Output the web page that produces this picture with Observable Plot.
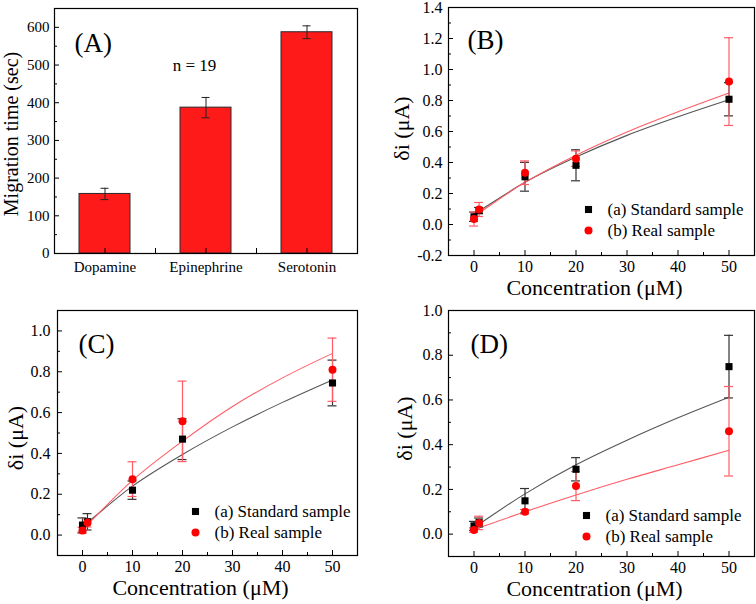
<!DOCTYPE html>
<html><head><meta charset="utf-8">
<script src="https://cdn.jsdelivr.net/npm/d3@7"></script>
<script src="https://cdn.jsdelivr.net/npm/@observablehq/plot@0.6"></script>
<style>
body{margin:0;background:#fff;}
#wrap{position:relative;width:756px;height:604px;background:#fff;overflow:hidden;}
#wrap > div{position:absolute;}
#wrap svg text{font-family:'Liberation Serif','Times New Roman',serif;}
</style></head><body>
<div id="wrap">
  <div id="pa" style="left:0;top:0"></div>
  <div id="pb" style="left:378px;top:0"></div>
  <div id="pc" style="left:0;top:300px"></div>
  <div id="pd" style="left:378px;top:300px"></div>
</div>
<script>
// ---------- Data ----------
const categories = ["Dopamine", "Epinephrine", "Serotonin"];
const migrationTime = [158, 387, 587];
const migrationErr = [15, 27, 17];
const nLabel = "n = 19";
const panelLabels = ["(A)", "(B)", "(C)", "(D)"];
const legendLabels = ["(a) Standard sample", "(b) Real sample"];
const xLabel = "Concentration (\u03bcM)";
const yLabelA = "Migration time (sec)";
const yLabel = "\u03b4i (\u03bcA)";

const concentration = [0, 1, 10, 20, 50];
const fitConcentration = [0, 1, 10, 20, 30, 40, 50];

// Panel B
const bStdY = [0.05, 0.09, 0.308, 0.382, 0.808];
const bStdErr = [0.03, 0.02, 0.093, 0.1, 0.107];
const bRealY = [0.035, 0.097, 0.334, 0.425, 0.922];
const bRealErr = [0.045, 0.045, 0.076, 0.05, 0.283];
const bFitStd = [0.07, 0.088, 0.272, 0.435, 0.575, 0.695, 0.805];
const bFitReal = [0.055, 0.075, 0.272, 0.447, 0.597, 0.727, 0.848];

// Panel C
const cStdY = [0.049, 0.065, 0.22, 0.47, 0.745];
const cStdErr = [0.035, 0.04, 0.045, 0.1, 0.112];
const cRealY = [0.023, 0.06, 0.274, 0.557, 0.81];
const cRealErr = [0.015, 0.02, 0.085, 0.197, 0.155];
const cFitStd = [0.045, 0.062, 0.24, 0.395, 0.53, 0.65, 0.76];
const cFitReal = [0.03, 0.052, 0.268, 0.46, 0.63, 0.77, 0.89];

// Panel D
const dStdY = [0.037, 0.052, 0.149, 0.29, 0.749];
const dStdErr = [0.02, 0.02, 0.055, 0.052, 0.14];
const dRealY = [0.018, 0.05, 0.10, 0.215, 0.46];
const dRealErr = [0.01, 0.03, 0.01, 0.065, 0.2];
const dFitStd = [0.03, 0.045, 0.18, 0.31, 0.42, 0.52, 0.612];
const dFitReal = [0.02, 0.028, 0.10, 0.175, 0.245, 0.31, 0.375];

// Ticks
const aYMajor = [0, 100, 200, 300, 400, 500, 600];
const aYMinor = [50, 150, 250, 350, 450, 550];
const xMajor = [0, 10, 20, 30, 40, 50];
const xMinor = [5, 15, 25, 35, 45];
const bYMajor = [-0.2, 0, 0.2, 0.4, 0.6, 0.8, 1.0, 1.2, 1.4];
const bYMinor = [-0.1, 0.1, 0.3, 0.5, 0.7, 0.9, 1.1, 1.3];
const cdYMajor = [0, 0.2, 0.4, 0.6, 0.8, 1.0];
const cdYMinor = [0.1, 0.3, 0.5, 0.7, 0.9];

// ---------- Styles ----------
const FONT = "'Liberation Serif', 'Times New Roman', serif";
const baseStyle = {fontFamily: FONT, fontSize: "16px", color: "black", background: "transparent", overflow: "visible"};
const RED = "#ff0000", RED_BAR = "#ff5c66", RED_FIT = "#ff5c66";
const BLK_BAR = "#333", BLK_FIT = "#555";
const T = {fontFamily: FONT, fill: "black"};

// ---------- Panel A ----------
const barRows = categories.map((c, i) => ({c, pos: i + 1, v: migrationTime[i], e: migrationErr[i]}));
const plotA = Plot.plot({
  width: 378, height: 300,
  marginLeft: 54, marginRight: 21, marginTop: 8, marginBottom: 47,
  x: {domain: [0.5, 3.5]},
  y: {domain: [0, 650]},
  style: {...baseStyle, fontSize: "15px"},
  marks: [
    Plot.rect(barRows, {x1: d => d.pos - 0.5, x2: d => d.pos + 0.5, y1: 0, y2: "v",
      insetLeft: 25, insetRight: 25, fill: "#ff1a1a", stroke: "#2a2a2a", strokeWidth: 1}),
    Plot.ruleX(barRows, {x: "pos", y1: d => d.v - d.e, y2: d => d.v + d.e, stroke: "#222"}),
    Plot.ruleY(barRows, {x1: "pos", x2: "pos", y: d => d.v + d.e, insetLeft: -4, insetRight: -4, stroke: "#222"}),
    Plot.ruleY(barRows, {x1: "pos", x2: "pos", y: d => d.v - d.e, insetLeft: -4, insetRight: -4, stroke: "#222"}),
    Plot.frame({stroke: "black", strokeWidth: 1.2}),
    Plot.axisX([1, 2, 3], {tickSize: -5, tickPadding: 13, tickFormat: d => categories[d - 1], label: null, fontSize: 15, fontFamily: FONT}),
    Plot.axisX([1.5, 2.5], {tickSize: -5, tickFormat: () => "", label: null}),
    Plot.axisY(aYMajor, {tickSize: -5, tickPadding: 10, tickFormat: d => String(d), label: null, fontSize: 15, fontFamily: FONT}),
    Plot.axisY(aYMinor, {tickSize: -3, tickFormat: () => "", label: null}),
    Plot.text([yLabelA], {...T, text: d => d, frameAnchor: "left", textAnchor: "middle", rotate: -90, lineAnchor: "top", dx: -51, dy: 3, fontSize: 20}),
    Plot.text([panelLabels[0]], {...T, text: d => d, frameAnchor: "top-left", textAnchor: "start", lineAnchor: "top", dx: 20, dy: 24, fontSize: 27}),
    Plot.text([nLabel], {...T, text: d => d, frameAnchor: "top-left", textAnchor: "middle", lineAnchor: "middle", dx: 140, dy: 57, fontSize: 17})
  ]
});
document.getElementById("pa").append(plotA);

// ---------- XY panels ----------
function xyPanel(cfg) {
  const std = concentration.map((x, i) => ({x, y: cfg.stdY[i], e: cfg.stdErr[i]}));
  const real = concentration.map((x, i) => ({x, y: cfg.realY[i], e: cfg.realErr[i]}));
  const fitS = fitConcentration.map((x, i) => ({x, y: cfg.fitStd[i]}));
  const fitR = fitConcentration.map((x, i) => ({x, y: cfg.fitReal[i]}));
  const errMarks = (rows, color) => [
    Plot.ruleX(rows, {x: "x", y1: d => d.y - d.e, y2: d => d.y + d.e, stroke: color, strokeWidth: 1.2}),
    Plot.ruleY(rows, {x1: "x", x2: "x", y: d => d.y + d.e, insetLeft: -4.5, insetRight: -4.5, stroke: color, strokeWidth: 1.2}),
    Plot.ruleY(rows, {x1: "x", x2: "x", y: d => d.y - d.e, insetLeft: -4.5, insetRight: -4.5, stroke: color, strokeWidth: 1.2})
  ];
  return Plot.plot({
    width: 378, height: cfg.height,
    marginLeft: cfg.m[0], marginRight: cfg.m[1], marginTop: cfg.m[2], marginBottom: cfg.m[3],
    x: {domain: [-5, 55]},
    y: {domain: cfg.yDomain},
    style: baseStyle,
    marks: [
      Plot.line(fitS, {x: "x", y: "y", stroke: BLK_FIT, strokeWidth: 1.1, curve: "catmull-rom"}),
      Plot.line(fitR, {x: "x", y: "y", stroke: RED_FIT, strokeWidth: 1.1, curve: "catmull-rom"}),
      ...errMarks(std, BLK_BAR),
      ...errMarks(real, RED_BAR),
      Plot.dot(std, {x: "x", y: "y", symbol: "square", fill: "black", r: 4}),
      Plot.dot(real, {x: "x", y: "y", symbol: "circle", fill: RED, r: 4}),
      Plot.frame({stroke: "black", strokeWidth: 1.2}),
      Plot.axisX(xMajor, {tickSize: -5, tickPadding: 10, tickFormat: d => String(d), label: null, fontSize: 16, fontFamily: FONT}),
      Plot.axisX(xMinor, {tickSize: -3, tickFormat: () => "", label: null}),
      Plot.axisY(cfg.yMajor, {tickSize: -5, tickPadding: cfg.ytp, tickFormat: d => d.toFixed(1), label: null, fontSize: 16, fontFamily: FONT}),
      Plot.axisY(cfg.yMinor, {tickSize: -3, tickFormat: () => "", label: null}),
      Plot.text([xLabel], {...T, text: d => d, frameAnchor: "bottom", textAnchor: "middle", lineAnchor: "top", dx: -7, dy: cfg.xlDy, fontSize: 22}),
      Plot.text([yLabel], {...T, text: d => d, frameAnchor: "left", textAnchor: "middle", rotate: -90, lineAnchor: "top", dx: cfg.ylDx, dy: cfg.ylDy, fontSize: 22}),
      Plot.text([cfg.panel], {...T, text: d => d, frameAnchor: "top-left", textAnchor: "start", lineAnchor: "top", dx: cfg.pl[0], dy: cfg.pl[1], fontSize: 27}),
      Plot.dot([legendLabels[0]], {frameAnchor: "top-left", dx: cfg.leg[0], dy: cfg.leg[1], symbol: "square", fill: "black", r: 4}),
      Plot.dot([legendLabels[1]], {frameAnchor: "top-left", dx: cfg.leg[0], dy: cfg.leg[1] + 21, symbol: "circle", fill: RED, r: 4}),
      Plot.text([legendLabels[0]], {...T, text: d => d, frameAnchor: "top-left", textAnchor: "start", lineAnchor: "middle", dx: cfg.leg[0] + 19, dy: cfg.leg[1], fontSize: 17}),
      Plot.text([legendLabels[1]], {...T, text: d => d, frameAnchor: "top-left", textAnchor: "start", lineAnchor: "middle", dx: cfg.leg[0] + 19, dy: cfg.leg[1] + 21, fontSize: 17})
    ]
  });
}

document.getElementById("pb").append(xyPanel({
  height: 300, m: [70, 2, 7, 45], yDomain: [-0.2, 1.4], yMajor: bYMajor, yMinor: bYMinor, ytp: 11,
  stdY: bStdY, stdErr: bStdErr, realY: bRealY, realErr: bRealErr, fitStd: bFitStd, fitReal: bFitReal,
  panel: panelLabels[1], pl: [19, 22], leg: [140, 202], xlDy: 24, ylDx: -55, ylDy: -3
}));
document.getElementById("pc").append(xyPanel({
  height: 304, m: [57, 21, 10, 49], yDomain: [-0.1, 1.1], yMajor: cdYMajor, yMinor: cdYMinor, ytp: 12,
  stdY: cStdY, stdErr: cStdErr, realY: cRealY, realErr: cRealErr, fitStd: cFitStd, fitReal: cFitReal,
  panel: panelLabels[2], pl: [21, 23], leg: [138, 201], xlDy: 24, ylDx: -50, ylDy: 5
}));
document.getElementById("pd").append(xyPanel({
  height: 304, m: [70, 2, 10, 48], yDomain: [-0.1, 1.0], yMajor: cdYMajor, yMinor: cdYMinor, ytp: 11,
  stdY: dStdY, stdErr: dStdErr, realY: dRealY, realErr: dRealErr, fitStd: dFitStd, fitReal: dFitReal,
  panel: panelLabels[3], pl: [22, 23], leg: [138, 205], xlDy: 24, ylDx: -52, ylDy: -5
}));
</script>
</body></html>
